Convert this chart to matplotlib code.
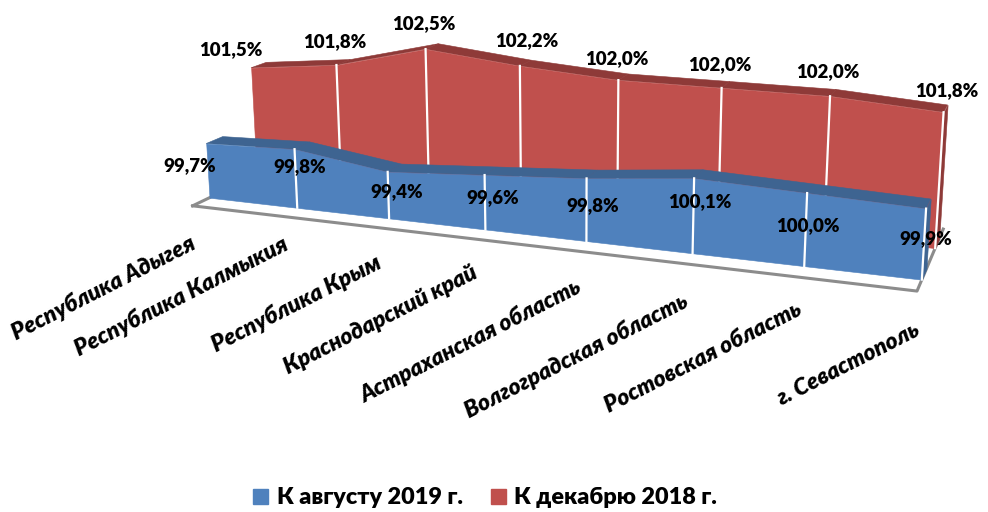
import numpy as np
import matplotlib
matplotlib.use('Agg')
import matplotlib.pyplot as plt
from matplotlib.patches import Patch
from mpl_toolkits.mplot3d.art3d import Poly3DCollection

plt.rcParams['font.family'] = ['Lato', 'Noto Sans', 'DejaVu Sans']

# Данные
regions = ['Республика Адыгея', 'Республика Калмыкия', 'Республика Крым', 'Краснодарский край',
           'Астраханская область', 'Волгоградская область', 'Ростовская область', 'г. Севастополь']
k_avgustu = [99.7, 99.8, 99.4, 99.6, 99.8, 100.1, 100.0, 99.9]
k_dekabryu = [101.5, 101.8, 102.5, 102.2, 102.0, 102.0, 102.0, 101.8]

# Положение подписей на картинке (в пикселях)
avg_label_xy = [(190, 166), (300, 167), (397, 192), (493, 198), (593, 206), (700, 202), (808, 226), (926, 239)]
dek_label_xy = [(231, 50), (335, 42), (424, 24), (527, 41), (617, 59), (720, 65), (828, 72), (947, 91)]
region_xy = [(103, 288), (181, 296), (296, 304), (381, 320), (470, 341), (576, 356), (703, 358), (848, 364)]

W, H = 988, 512
z0 = 98
s = 762.0
cx, cy = 547.44, 367.98

fig = plt.figure(figsize=(W / 100, H / 100), dpi=100)
ax = fig.add_axes([(cx - s / 2) / W, (cy - s / 2) / H, s / W, s / H], projection='3d', computed_zorder=False)


def add_poly(verts, color, zorder):
    poly = Poly3DCollection(verts, facecolors=color, edgecolors=color, linewidths=0.4, shade=False, zorder=zorder)
    poly.set_clip_on(False)
    ax.add_collection3d(poly, autolim=False)
    return poly


def draw_series(values, y0, y1, front, dark, zorder):
    n = len(values)
    # верхняя грань
    strips = []
    for i in range(n - 1):
        strips.append([(i, y0, values[i]), (i + 1, y0, values[i + 1]), (i + 1, y1, values[i + 1]), (i, y1, values[i])])
    add_poly(strips, dark, zorder)
    # правая боковая грань
    last = n - 1
    add_poly([[(last, y0, z0), (last, y1, z0), (last, y1, values[-1]), (last, y0, values[-1])]], dark, zorder)
    # передняя грань
    outline = [(i, y0, values[i]) for i in range(n)] + [(last, y0, z0), (0, y0, z0)]
    add_poly([outline], front, zorder + 0.1)
    # белые разделители
    for i in range(1, n):
        line, = ax.plot([i, i], [y0, y0], [z0, values[i]], color='white', lw=1.6, zorder=zorder + 0.2)
        line.set_clip_on(False)


# пол диаграммы
last_x = len(regions) - 1
add_poly([[(0, 0, z0), (last_x, 0, z0), (last_x, 2, z0), (0, 2, z0)]], 'white', 1)
floor_line, = ax.plot([0, last_x, last_x], [0, 0, 2], [z0, z0, z0], color='#8c8c8c', lw=2.2, zorder=1.1)
floor_line.set_clip_on(False)
left_line, = ax.plot([0, 0], [0, 1 / 3], [z0, z0], color='#8c8c8c', lw=2.2, zorder=1.1)
left_line.set_clip_on(False)

draw_series(k_dekabryu, 4 / 3, 5 / 3, '#C0504D', '#8E3A38', 2)
draw_series(k_avgustu, 1 / 3, 2 / 3, '#4F81BD', '#3E6491', 3)

ax.set_xlim(0, last_x)
ax.set_ylim(0, 2)
ax.set_zlim(z0, 103)
ax.view_init(elev=14.206, azim=-69.378, roll=0.13)
ax.set_proj_type('persp', focal_length=0.36895)
ax.set_box_aspect((1, 0.25434, 0.23529))
ax.set_axis_off()

# подписи значений
for vals, xy in [(k_dekabryu, dek_label_xy), (k_avgustu, avg_label_xy)]:
    for v, (px, py) in zip(vals, xy):
        fig.text(px / W, 1 - py / H, f'{v:.1f}%'.replace('.', ','), ha='center', va='center',
                 fontsize=13.4, fontweight='heavy', color='black')

# подписи регионов
for name, (px, py) in zip(regions, region_xy):
    fig.text(px / W, 1 - py / H, name, ha='center', va='center', rotation=27, rotation_mode='anchor',
             fontsize=16.5, fontweight='heavy', fontstyle='italic', color='black')

handles = [Patch(color='#4F81BD', label='К августу 2019 г.'), Patch(color='#C0504D', label='К декабрю 2018 г.')]
fig.legend(handles=handles, ncol=2, loc='center', bbox_to_anchor=(485 / W, 1 - 498 / H), frameon=False,
           prop={'size': 16.8, 'weight': 'heavy'}, handlelength=0.65, handleheight=0.65, handletextpad=0.35, columnspacing=1.2)

fig.savefig('out.png', dpi=100, facecolor='white')
